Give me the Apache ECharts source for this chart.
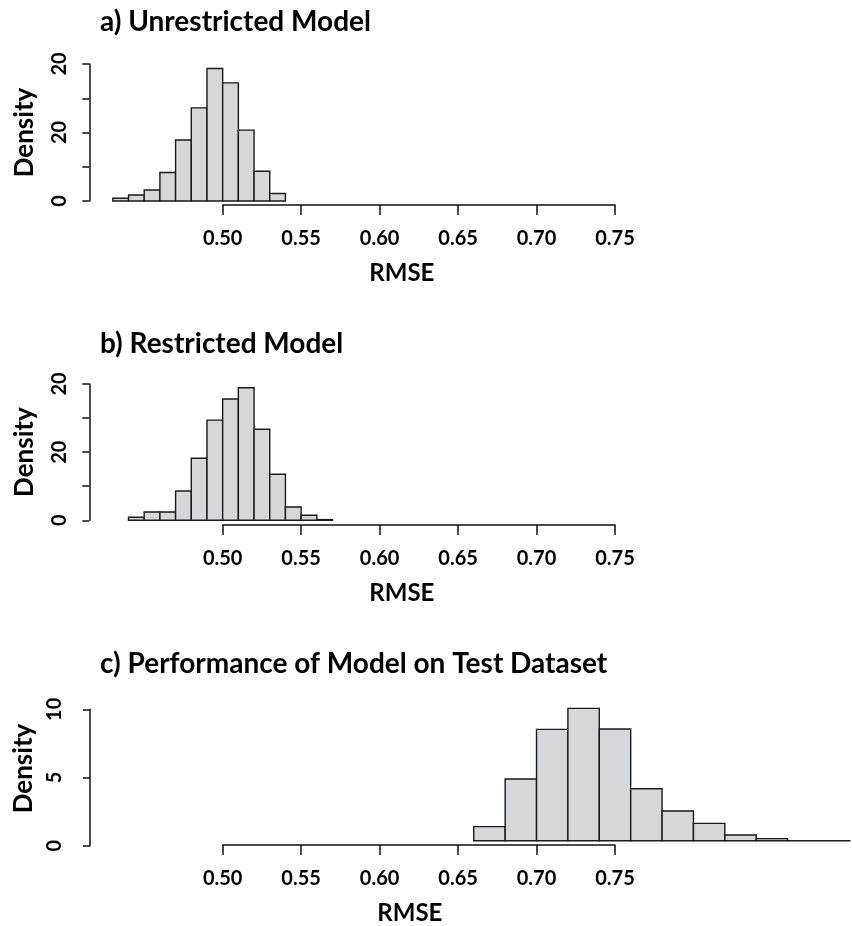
<!DOCTYPE html>
<html>
<head>
<meta charset="utf-8">
<script src="https://cdn.jsdelivr.net/npm/echarts@6/dist/echarts.min.js"></script>
<style>
html,body{margin:0;padding:0;background:#fff;}
#c{width:852px;height:926px;}
</style>
</head>
<body>
<div id="c"></div>
<script>
// ---- data ----
const titles = ['a) Unrestricted Model', 'b) Restricted Model', 'c) Performance of Model on Test Dataset'];
const xTickLabels = ['0.50', '0.55', '0.60', '0.65', '0.70', '0.75'];
const yTickLabelsAB = ['0', '', '20', '', '20'];
const yTickLabelsC = ['0', '5', '10'];

const edgesA = [0.43, 0.44, 0.45, 0.46, 0.47, 0.48, 0.49, 0.50, 0.51, 0.52, 0.53, 0.54];
const densityA = [0.8, 1.75, 3.2, 8.3, 17.8, 27.2, 38.7, 34.5, 20.7, 8.7, 2.2];

const edgesB = [0.44, 0.45, 0.46, 0.47, 0.48, 0.49, 0.50, 0.51, 0.52, 0.53, 0.54, 0.55, 0.56, 0.57];
const densityB = [0.9, 2.45, 2.45, 8.6, 18.2, 29.4, 35.6, 38.9, 26.7, 13.5, 3.9, 1.47, 0.2];

const edgesC = [0.66, 0.68, 0.70, 0.72, 0.74, 0.76, 0.78, 0.80, 0.82, 0.84, 0.86, 0.88, 0.90];
const densityC = [1.03, 4.52, 8.16, 9.70, 8.19, 3.81, 2.18, 1.27, 0.42, 0.15, 0, 0];

// ---- chart ----
const FONT = 'Lato';
function bins(edges, dens) {
  return dens.map((d, i) => [edges[i], edges[i + 1], d]);
}
function renderBin(params, api) {
  const x0 = api.value(0), x1 = api.value(1), h = api.value(2);
  const p0 = api.coord([x0, 0]);
  const p1 = api.coord([x1, h]);
  return {
    type: 'rect',
    shape: { x: p0[0], y: p1[1], width: p1[0] - p0[0], height: p0[1] - p1[1] },
    style: { fill: '#d6d7d9', stroke: '#1a1a1a', lineWidth: 1.4 }
  };
}

const PXU = 1569.3;           // pixels per RMSE unit
const X050 = 222.67;          // pixel of 0.50
const XMIN = 0.43, XMAX = 0.90;
const barLeft = X050 - (0.50 - XMIN) * PXU;
const barWidth = (XMAX - XMIN) * PXU;

const axisLineStyle = { color: '#111', width: 1.5 };
const tickLabelStyle = { fontFamily: FONT, fontWeight: 'bold', fontSize: 20, color: '#000' };
const nameStyle = { fontFamily: FONT, fontWeight: 'bold', fontSize: 24, color: '#000' };
const yNameStyle = { fontFamily: FONT, fontWeight: 'bold', fontSize: 26, color: '#000' };

const grids = [];
const xAxes = [];
const yAxes = [];
const series = [];

function addPanel(opt) {
  // bars grid
  const gBar = grids.length;
  grids.push({ left: barLeft, width: barWidth, top: opt.barTop, height: opt.barHeight });
  xAxes.push({ type: 'value', gridIndex: gBar, min: XMIN, max: XMAX, show: false });
  yAxes.push({
    type: 'value', gridIndex: gBar, min: 0, max: opt.yMax, interval: opt.yInterval,
    show: opt.yOnBar,
    offset: barLeft - opt.yAxisX,
    axisLine: { show: true, lineStyle: axisLineStyle },
    axisTick: { show: true, length: 7, lineStyle: axisLineStyle },
    splitLine: { show: false },
    axisLabel: {
      rotate: 90, margin: opt.yLabelMargin, ...tickLabelStyle,
      formatter: (v) => opt.yLabels[Math.round(v / opt.yInterval)] ?? ''
    },
    name: opt.yOnBar ? 'Density' : '', nameLocation: 'middle', nameGap: opt.yNameGap, nameTextStyle: yNameStyle
  });
  series.push({
    type: 'custom', xAxisIndex: gBar, yAxisIndex: gBar,
    data: bins(opt.edges, opt.dens), renderItem: renderBin,
    encode: { x: [0, 1], y: 2 }, silent: true
  });

  // separate y axis grid (when y-axis zero differs from bar baseline)
  if (!opt.yOnBar) {
    const gY = grids.length;
    grids.push({ left: opt.yAxisX, width: 10, top: opt.yTop, height: opt.yHeight });
    xAxes.push({ type: 'value', gridIndex: gY, min: 0, max: 1, show: false });
    yAxes.push({
      type: 'value', gridIndex: gY, min: 0, max: opt.yMax, interval: opt.yInterval,
      axisLine: { show: true, lineStyle: axisLineStyle },
      axisTick: { show: true, length: 7, lineStyle: axisLineStyle },
      splitLine: { show: false },
      axisLabel: {
        rotate: 90, margin: opt.yLabelMargin, ...tickLabelStyle,
        formatter: (v) => opt.yLabels[Math.round(v / opt.yInterval)] ?? ''
      },
      name: 'Density', nameLocation: 'middle', nameGap: opt.yNameGap,
      nameTextStyle: { ...yNameStyle, padding: opt.yNamePad || 0 }
    });
  }

  // x axis grid (0.50 - 0.75)
  const gX = grids.length;
  grids.push({ left: X050, width: 0.25 * PXU, top: opt.xLineY - 5, height: 5 });
  xAxes.push({
    type: 'value', gridIndex: gX, min: 0.50, max: 0.75, interval: 0.05, position: 'bottom',
    axisLine: { show: true, lineStyle: axisLineStyle },
    axisTick: { show: true, length: 10, lineStyle: axisLineStyle },
    splitLine: { show: false },
    axisLabel: {
      margin: 24, ...tickLabelStyle,
      formatter: (v) => xTickLabels[Math.round((v - 0.50) / 0.05)] ?? ''
    },
    name: 'RMSE', nameLocation: 'middle', nameGap: 56,
    nameTextStyle: { ...nameStyle, padding: opt.xNamePad }
  });
  yAxes.push({ type: 'value', gridIndex: gX, min: 0, max: 1, show: false });
}

addPanel({
  edges: edgesA, dens: densityA, barTop: 64, barHeight: 137, yMax: 40, yInterval: 10,
  yLabels: yTickLabelsAB, yOnBar: true, yAxisX: 89.3, yLabelMargin: 20, yNameGap: 52,
  xLineY: 205, xNamePad: [0, 34, 0, 0]
});
addPanel({
  edges: edgesB, dens: densityB, barTop: 384, barHeight: 136.3, yMax: 40, yInterval: 10,
  yLabels: yTickLabelsAB, yOnBar: true, yAxisX: 89.3, yLabelMargin: 20, yNameGap: 52,
  xLineY: 525, xNamePad: [0, 34, 0, 0]
});
addPanel({
  edges: edgesC, dens: densityC, barTop: 840.7 - 136.4, barHeight: 136.4, yMax: 10, yInterval: 5,
  yLabels: yTickLabelsC, yOnBar: false, yAxisX: 90, yTop: 709.3, yHeight: 136.4,
  yLabelMargin: 25, yNameGap: 53, yNamePad: [0, 0, 0, 18],
  xLineY: 845.7, xNamePad: [0, 18, 0, 0]
});

const titleTops = [3, 325, 645];
const chart = echarts.init(document.getElementById('c'), null, { renderer: 'canvas' });
chart.setOption({
  animation: false,
  backgroundColor: '#fff',
  title: titles.map((t, i) => ({
    text: t, left: 95, top: titleTops[i],
    textStyle: { fontFamily: FONT, fontWeight: 'bold', fontSize: 28, color: '#000' }
  })),
  grid: grids,
  xAxis: xAxes,
  yAxis: yAxes,
  series: series
});
</script>
</body>
</html>
